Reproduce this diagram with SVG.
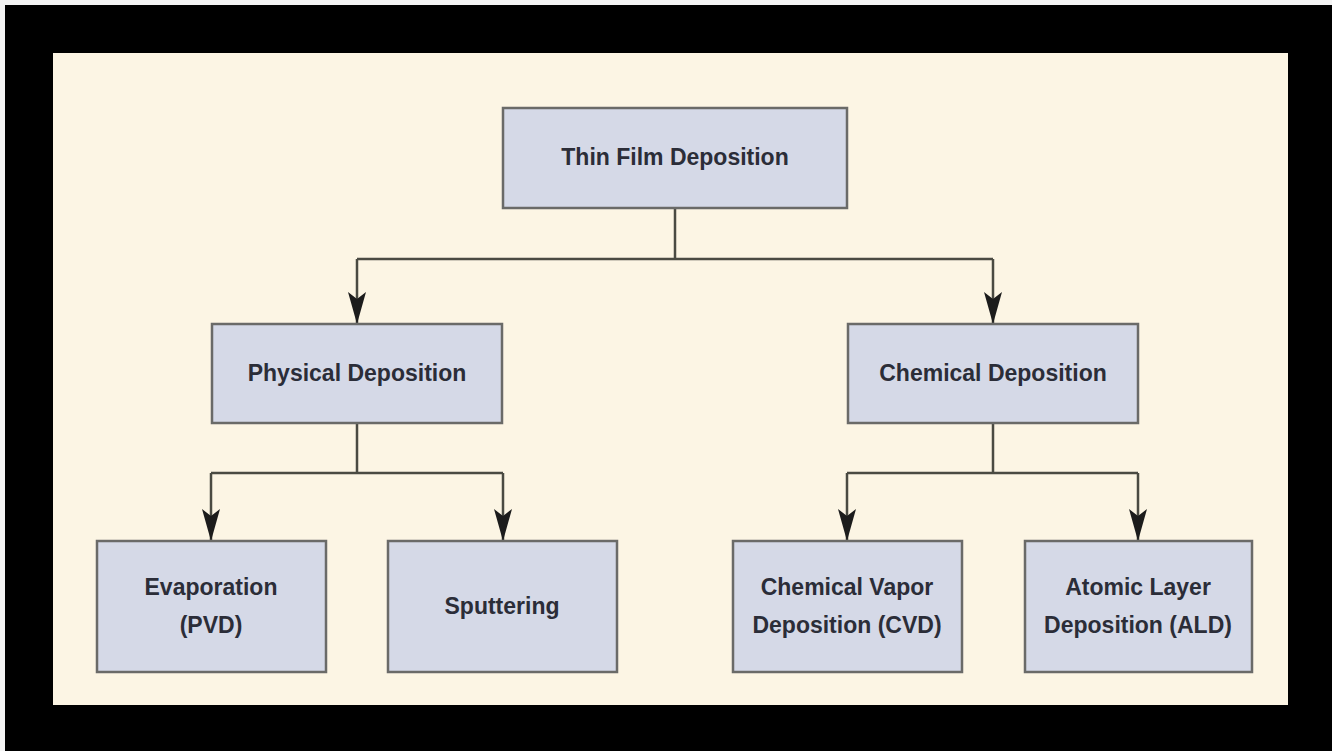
<svg xmlns="http://www.w3.org/2000/svg" width="1332" height="751" viewBox="0 0 1332 751">
  <style>
    .box { fill: #d5d9e7; stroke: #6a6a68; stroke-width: 2.5; }
    .lbl { font-family: "Liberation Sans", Arial, sans-serif; font-weight: bold; font-size: 23px; fill: #2b2d38; text-anchor: middle; }
    .conn { fill: none; stroke: #4a4a42; stroke-width: 2.5; }
  </style>
  <defs>
    <marker id="arrow" viewBox="0 0 32 18" refX="32" refY="9" markerWidth="32" markerHeight="18" markerUnits="userSpaceOnUse" orient="auto">
      <path d="M32,9 L0,0 L7,9 L0,18 Z" fill="#1c1c1c"/>
    </marker>
  </defs>
  <rect x="0" y="0" width="1332" height="751" fill="#f4f4f4"/>
  <rect x="5" y="5" width="1327" height="746" fill="#000000"/>
  <rect x="53" y="53" width="1235" height="652" fill="#fcf5e4"/>

  <g id="connectors">
    <path class="conn" d="M675,208 V259 M357,259 H993 M357,423 V473 M211,473 H503 M993,423 V473 M847,473 H1138"/>
    <path class="conn" d="M357,259 V324" marker-end="url(#arrow)"/>
    <path class="conn" d="M993,259 V324" marker-end="url(#arrow)"/>
    <path class="conn" d="M211,473 V541" marker-end="url(#arrow)"/>
    <path class="conn" d="M503,473 V541" marker-end="url(#arrow)"/>
    <path class="conn" d="M847,473 V541" marker-end="url(#arrow)"/>
    <path class="conn" d="M1138,473 V541" marker-end="url(#arrow)"/>
  </g>

  <g id="thin-film">
    <rect class="box" x="503" y="108" width="344" height="100"/>
    <text class="lbl" x="675" y="165" font-size="24">Thin Film Deposition</text>
  </g>
  <g id="physical">
    <rect class="box" x="212" y="324" width="290" height="99"/>
    <text class="lbl" x="357" y="381">Physical Deposition</text>
  </g>
  <g id="chemical">
    <rect class="box" x="848" y="324" width="290" height="99"/>
    <text class="lbl" x="993" y="381">Chemical Deposition</text>
  </g>
  <g id="evaporation">
    <rect class="box" x="97" y="541" width="229" height="131"/>
    <text class="lbl" x="211" y="595">Evaporation</text>
    <text class="lbl" x="211" y="633">(PVD)</text>
  </g>
  <g id="sputtering">
    <rect class="box" x="388" y="541" width="229" height="131"/>
    <text class="lbl" x="502" y="614">Sputtering</text>
  </g>
  <g id="cvd">
    <rect class="box" x="733" y="541" width="229" height="131"/>
    <text class="lbl" x="847" y="595">Chemical Vapor</text>
    <text class="lbl" x="847" y="633">Deposition (CVD)</text>
  </g>
  <g id="ald">
    <rect class="box" x="1025" y="541" width="227" height="131"/>
    <text class="lbl" x="1138" y="595">Atomic Layer</text>
    <text class="lbl" x="1138" y="633">Deposition (ALD)</text>
  </g>
</svg>
